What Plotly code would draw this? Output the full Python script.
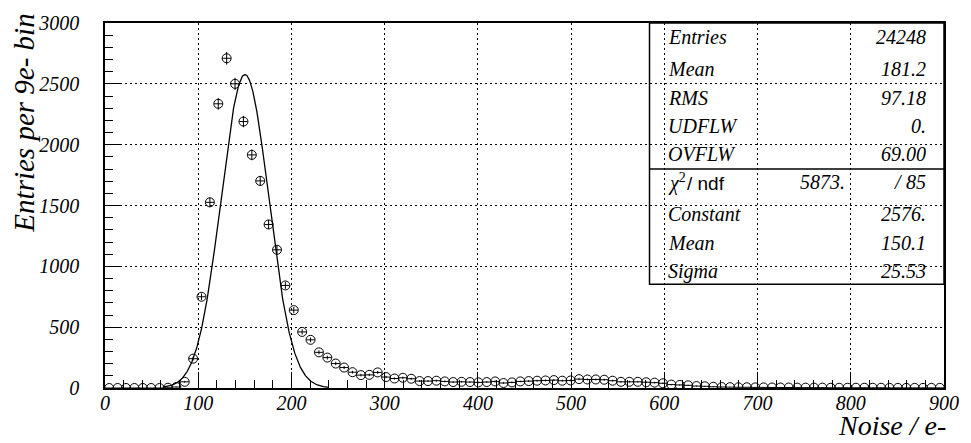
import numpy as np
import plotly.graph_objects as go

# ---------------- data ----------------
bin_centers = [4.5 + 9 * i for i in range(100)]
counts = [
    0, 0, 0, 0, 0, 0, 0, 2, 8, 51,
    241, 750, 1526, 2336, 2710, 2500, 2190, 1916, 1702, 1344,
    1136, 843, 640, 461, 396, 293, 250, 201, 168, 130,
    106, 108, 128, 90, 78, 84, 76, 57, 57, 60,
    54, 49, 51, 49, 46, 49, 54, 41, 46, 54,
    57, 60, 62, 65, 60, 62, 73, 70, 70, 68,
    60, 51, 51, 51, 47, 44, 39, 28, 25, 22,
    16, 14, 10, 8, 7, 6, 6, 5, 5, 4,
    4, 4, 3, 3, 3, 3, 2, 2, 2, 2,
    2, 2, 2, 1, 1, 1, 1, 1, 1, 1,
]
fit_constant = 2576.0
fit_mean = 150.1
fit_sigma = 25.53
fit_range = [62, 240]

x_ticks = [0, 100, 200, 300, 400, 500, 600, 700, 800, 900]
y_ticks = [0, 500, 1000, 1500, 2000, 2500, 3000]

stats_upper = [("Entries", "24248"), ("Mean", "181.2"), ("RMS", "97.18"),
               ("UDFLW", "0."), ("OVFLW", "69.00")]
stats_lower = [("Constant", "2576."), ("Mean", "150.1"), ("Sigma", "25.53")]
chi2_value = "5873."
ndf_value = "85"

# ---------------- figure ----------------
SERIF = "Liberation Serif"
SANS = "Liberation Sans"

fig = go.Figure()

fig.add_trace(go.Scatter(
    x=bin_centers, y=counts, mode="markers",
    marker=dict(symbol="circle-open", size=9, color="black",
                line=dict(width=1, color="black")),
    error_y=dict(type="sqrt", width=0, thickness=1, color="black"),
    error_x=dict(type="constant", value=4.5, width=0, thickness=1, color="black"),
    showlegend=False, hoverinfo="x+y",
))

xf = np.linspace(fit_range[0], fit_range[1], 400)
yf = fit_constant * np.exp(-0.5 * ((xf - fit_mean) / fit_sigma) ** 2)
fig.add_trace(go.Scatter(x=xf, y=yf, mode="lines",
                         line=dict(color="black", width=1.3),
                         showlegend=False, hoverinfo="skip"))

tickfont = dict(family=SERIF, size=20, color="black")

fig.update_xaxes(
    range=[0, 900], tickvals=x_ticks, ticktext=["<i>%d</i>" % v for v in x_ticks],
    showline=True, linecolor="black", linewidth=1.5, mirror=True,
    ticks="inside", ticklen=16, tickwidth=1, tickcolor="black",
    minor=dict(dtick=20, tick0=0, ticks="inside", ticklen=8, tickwidth=1,
               tickcolor="black", showgrid=False),
    showgrid=True, gridcolor="black", gridwidth=1, griddash="2px,3px",
    tickfont=tickfont, zeroline=False, ticklabelstandoff=-4,
    ticklabeloverflow="allow",
)
fig.update_yaxes(
    range=[0, 3000], tickvals=y_ticks, ticktext=["<i>%d</i>" % v for v in y_ticks],
    showline=True, linecolor="black", linewidth=1.5, mirror=True,
    ticks="inside", ticklen=16, tickwidth=1, tickcolor="black",
    minor=dict(dtick=100, tick0=0, ticks="inside", ticklen=8, tickwidth=1,
               tickcolor="black", showgrid=False),
    showgrid=True, gridcolor="black", gridwidth=1, griddash="2px,3px",
    tickfont=tickfont, zeroline=False, ticklabelstandoff=20,
)

annotations = []
annotations.append(dict(
    text="<i>Entries per 9e- bin</i>", xref="paper", yref="paper",
    x=-0.097, y=0.726, xanchor="center", yanchor="middle", textangle=-90,
    showarrow=False, font=dict(family=SERIF, size=29, color="black")))
annotations.append(dict(
    text="<i>Noise / e-</i>", xref="paper", yref="paper", borderpad=0,
    x=1.004, y=-0.149, xanchor="right", yanchor="bottom",
    showarrow=False, font=dict(family=SERIF, size=28, color="black")))

box_left, box_right = 0.649, 1.0
box_top, box_mid, box_bottom = 1.0, 0.600, 0.284
label_x = 0.669
value_x = 0.981
box_font = dict(family=SERIF, size=20, color="black")
upper_rows = [0.9613, 0.8753, 0.7940, 0.7173, 0.6404]
lower_rows = [0.4778, 0.3965, 0.3198]
chi_row = 0.5637

for (lab, val), yy in zip(stats_upper, upper_rows):
    annotations.append(dict(text="<i>%s</i>" % lab, xref="paper", yref="paper", x=label_x, y=yy,
                            xanchor="left", yanchor="middle", showarrow=False, font=box_font))
    annotations.append(dict(text="<i>%s</i>" % val, xref="paper", yref="paper", x=value_x, y=yy,
                            xanchor="right", yanchor="middle", showarrow=False, font=box_font))
for (lab, val), yy in zip(stats_lower, lower_rows):
    annotations.append(dict(text="<i>%s</i>" % lab, xref="paper", yref="paper", x=label_x, y=yy,
                            xanchor="left", yanchor="middle", showarrow=False, font=box_font))
    annotations.append(dict(text="<i>%s</i>" % val, xref="paper", yref="paper", x=value_x, y=yy,
                            xanchor="right", yanchor="middle", showarrow=False, font=box_font))

annotations.append(dict(
    text="<i>\u03c7</i><sup>2</sup>", xref="paper", yref="paper", x=label_x, y=chi_row,
    xanchor="left", yanchor="middle", showarrow=False, font=box_font))
annotations.append(dict(
    text="/ ndf", xref="paper", yref="paper", x=0.691, y=chi_row - 0.004,
    xanchor="left", yanchor="middle", showarrow=False,
    font=dict(family=SANS, size=19, color="black")))
annotations.append(dict(text="<i>%s</i>" % chi2_value, xref="paper", yref="paper", x=0.884, y=chi_row,
                        xanchor="right", yanchor="middle", showarrow=False, font=box_font))
annotations.append(dict(text="<i>/</i>", xref="paper", yref="paper", x=0.946, y=chi_row,
                        xanchor="center", yanchor="middle", showarrow=False, font=box_font))
annotations.append(dict(text="<i>%s</i>" % ndf_value, xref="paper", yref="paper", x=value_x, y=chi_row,
                        xanchor="right", yanchor="middle", showarrow=False, font=box_font))

shapes = [
    dict(type="rect", xref="paper", yref="paper", x0=box_left, x1=box_right,
         y0=box_bottom, y1=box_top, line=dict(color="black", width=1.5)),
    dict(type="line", xref="paper", yref="paper", x0=box_left, x1=box_right,
         y0=box_mid, y1=box_mid, line=dict(color="black", width=1.5)),
]

fig.update_layout(
    width=971, height=443,
    margin=dict(l=105, r=19, t=19, b=55),
    paper_bgcolor="white", plot_bgcolor="white",
    annotations=annotations, shapes=shapes,
    showlegend=False,
)

fig.write_html("out.html")
